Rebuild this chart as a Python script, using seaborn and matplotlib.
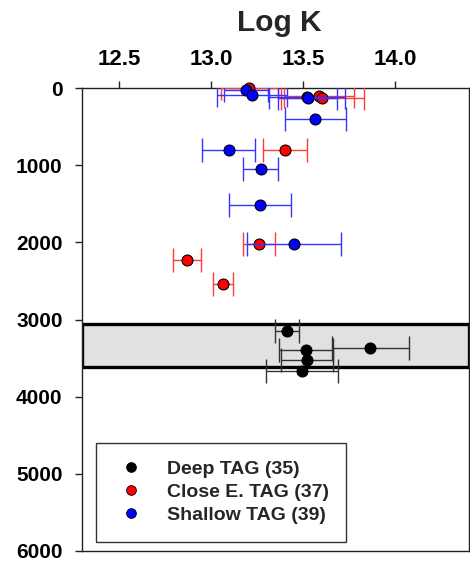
import matplotlib
matplotlib.use("Agg")
import matplotlib.pyplot as plt
from matplotlib.lines import Line2D
import seaborn as sns
import pandas as pd

# Log K values with depth (m) and 1-sigma errors for each site
deep_logk = [13.41, 13.515, 13.865, 13.52, 13.495]
deep_depth = [3150, 3400, 3370, 3525, 3670]
deep_err = [0.065, 0.145, 0.21, 0.14, 0.195]

close_logk = [13.208, 13.585, 13.605, 13.40, 13.262, 12.87, 13.066]
close_depth = [5, 105, 135, 805, 2025, 2235, 2545]
close_err = [0.155, 0.19, 0.225, 0.12, 0.088, 0.075, 0.056]

shallow_logk = [13.19, 13.225, 13.52, 13.525, 13.565, 13.095, 13.27, 13.265, 13.45]
shallow_depth = [20, 95, 120, 125, 405, 805, 1055, 1520, 2025]
shallow_err = [0.12, 0.19, 0.205, 0.16, 0.165, 0.145, 0.095, 0.17, 0.255]

series_names = ["Deep TAG (35)", "Close E. TAG (37)", "Shallow TAG (39)"]
point_colors = ["#000000", "#ff0000", "#0000ff"]
bar_colors = ["#333333", "#ff3b3b", "#3535ff"]

# Depth range of the deep zone
zone_top, zone_bottom = 3060, 3620

sns.set_theme(style="ticks")
plt.rcParams["font.family"] = ["Liberation Sans", "DejaVu Sans"]
plt.rcParams["font.weight"] = "bold"

frames = []
for name, xs, ds, es in [
    (series_names[0], deep_logk, deep_depth, deep_err),
    (series_names[1], close_logk, close_depth, close_err),
    (series_names[2], shallow_logk, shallow_depth, shallow_err),
]:
    frames.append(pd.DataFrame({"logk": xs, "depth": ds, "err": es, "site": name}))
df = pd.concat(frames, ignore_index=True)

fig = plt.figure(figsize=(4.70, 5.65), dpi=100)
ax = fig.add_axes([82 / 470, 1 - 551 / 565, 387 / 470, 463 / 565])

ax.axhspan(zone_top, zone_bottom, facecolor="#e1e1e1", edgecolor="black",
           linewidth=2.4, zorder=1)

for i, name in enumerate(series_names):
    sub = df[df["site"] == name]
    ax.errorbar(sub["logk"], sub["depth"], xerr=sub["err"], fmt="none",
                ecolor=bar_colors[i], elinewidth=1.0, capsize=8.5,
                capthick=1.0, zorder=2 + 2 * i)
    sns.scatterplot(data=sub, x="logk", y="depth", color=point_colors[i],
                    s=62, edgecolor="black", linewidth=0.8, ax=ax,
                    zorder=3 + 2 * i, clip_on=False, legend=False)

ax.set_xlim(12.3, 14.4)
ax.set_ylim(6000, 0)
ax.set_xticks([12.5, 13.0, 13.5, 14.0])
ax.set_xticklabels(["12.5", "13.0", "13.5", "14.0"])
ax.set_yticks([0, 1000, 2000, 3000, 4000, 5000, 6000])
ax.xaxis.tick_top()
ax.set_xlabel("")
ax.set_ylabel("")
ax.tick_params(axis="x", direction="out", length=5, width=1, pad=8,
               labelsize=16, colors="#222222", labelcolor="black")
ax.tick_params(axis="y", direction="out", length=5, width=1, pad=9,
               labelsize=15, colors="#222222", labelcolor="black")
for lab in ax.get_xticklabels() + ax.get_yticklabels():
    lab.set_fontweight("bold")
for sp in ax.spines.values():
    sp.set_visible(True)
    sp.set_color("#222222")
    sp.set_linewidth(1.0)

fig.text(279 / 470, 1 - 23 / 565, "Log K", ha="center", va="center",
         fontsize=21.5, fontweight="bold")

handles = [Line2D([], [], linestyle="none", marker="o", markersize=7,
                  markerfacecolor=c, markeredgecolor="black",
                  markeredgewidth=0.6) for c in point_colors]
leg = fig.legend(handles, series_names, loc="upper left",
                 bbox_to_anchor=(96 / 470, 1 - 443 / 565), borderaxespad=0,
                 frameon=True, fancybox=False, edgecolor="#333333",
                 framealpha=1, prop={"size": 14, "weight": "bold"},
                 borderpad=0.9, handlelength=1.75, handletextpad=1.0,
                 labelspacing=0.28)
leg.get_frame().set_linewidth(1.0)

fig.savefig("out.png", dpi=100)
